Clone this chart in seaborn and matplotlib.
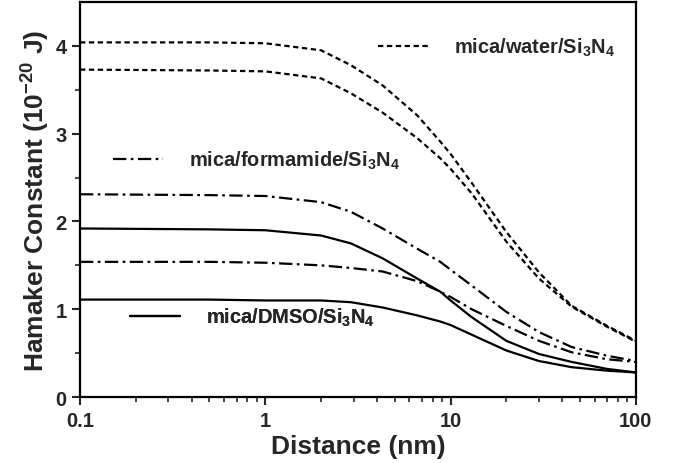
import matplotlib
matplotlib.use("Agg")
import matplotlib.pyplot as plt
import seaborn as sns
from matplotlib.lines import Line2D
from matplotlib.ticker import FixedLocator, NullFormatter

sns.set_style("ticks")
plt.rcParams['font.family'] = ['Liberation Sans', 'DejaVu Sans']
plt.rcParams['font.weight'] = 'bold'
plt.rcParams['mathtext.fontset'] = 'custom'
plt.rcParams['mathtext.rm'] = 'Liberation Sans:bold'
plt.rcParams['mathtext.bf'] = 'Liberation Sans:bold'
plt.rcParams['mathtext.default'] = 'bf'

distance = [0.1, 0.5, 1, 2, 2.9, 4.3, 6.6, 8.8, 10, 13, 20, 30, 45, 70, 100]
water_hi = [4.04, 4.04, 4.03, 3.95, 3.78, 3.55, 3.21, 2.91, 2.77, 2.44, 1.88, 1.42, 1.04, 0.81, 0.64]
water_lo = [3.73, 3.72, 3.71, 3.63, 3.46, 3.24, 2.95, 2.72, 2.60, 2.32, 1.77, 1.35, 1.03, 0.80, 0.63]
form_hi = [2.31, 2.30, 2.29, 2.22, 2.11, 1.92, 1.69, 1.54, 1.45, 1.27, 0.97, 0.74, 0.57, 0.47, 0.41]
form_lo = [1.54, 1.54, 1.53, 1.50, 1.47, 1.43, 1.32, 1.20, 1.14, 1.00, 0.81, 0.64, 0.51, 0.43, 0.40]
dmso_hi = [1.92, 1.91, 1.90, 1.84, 1.75, 1.58, 1.35, 1.20, 1.10, 0.91, 0.64, 0.49, 0.40, 0.32, 0.28]
dmso_lo = [1.11, 1.11, 1.10, 1.10, 1.08, 1.02, 0.93, 0.86, 0.82, 0.71, 0.53, 0.41, 0.34, 0.30, 0.28]

labels = ["mica/water/Si$_3$N$_4$", "mica/formamide/Si$_3$N$_4$", "mica/DMSO/Si$_3$N$_4$"]
x_ticks = [0.1, 1, 10, 100]
x_ticklabels = ["0.1", "1", "10", "100"]
y_ticks = [0, 1, 2, 3, 4]

dash_water = (0, (2.4, 1.6))
dash_form = (0, (6, 2, 1.2, 2))

fig = plt.figure(figsize=(6.75, 4.64), dpi=100)
ax = fig.add_axes([0.1185, 0.1422, 0.8235, 0.8513])

lw = 1.6
for ys, ls in [(water_hi, dash_water), (water_lo, dash_water),
               (form_hi, dash_form), (form_lo, dash_form),
               (dmso_hi, '-'), (dmso_lo, '-')]:
    sns.lineplot(x=distance, y=ys, ax=ax, color='black', linestyle=ls, linewidth=lw)

ax.set_xscale('log')
ax.set_xlim(0.1, 100)
ax.set_ylim(0, 4.5)
ax.set_xticks(x_ticks)
ax.set_xticklabels(x_ticklabels)
ax.set_yticks(y_ticks)
ax.yaxis.set_minor_locator(FixedLocator([0.5, 1.5, 2.5, 3.5]))
ax.xaxis.set_minor_formatter(NullFormatter())
ax.tick_params(axis='both', which='major', direction='out', length=5.8, width=1.5,
               labelsize=14.5, pad=4, top=False, right=False)
ax.tick_params(axis='both', which='minor', direction='out', length=3.6, width=1.2,
               top=False, right=False)
for lab in ax.get_xticklabels() + ax.get_yticklabels():
    lab.set_fontweight('bold')
for s in ax.spines.values():
    s.set_linewidth(1.6)
    s.set_color('black')

ax.set_xlabel("Distance (nm)", fontsize=19, fontweight='bold', labelpad=3)
ax.set_ylabel("Hamaker Constant (10$^{-20}$ J)", fontsize=19, fontweight='bold', labelpad=2)

def add_leg(label, ls, anchor):
    h = Line2D([], [], color='black', linestyle=ls, linewidth=lw)
    leg = ax.legend([h], [label], loc='center left', bbox_to_anchor=anchor,
                    frameon=False, handlelength=2.5, handletextpad=1.3,
                    prop={'weight': 'bold', 'size': 14.4, 'family': 'Liberation Sans'})
    ax.add_artist(leg)

add_leg(labels[0], dash_water, (0.504, 0.887))
add_leg(labels[1], dash_form, (0.027, 0.6))
add_leg(labels[2], '-', (0.058, 0.203))

fig.savefig("out.png", dpi=100)
